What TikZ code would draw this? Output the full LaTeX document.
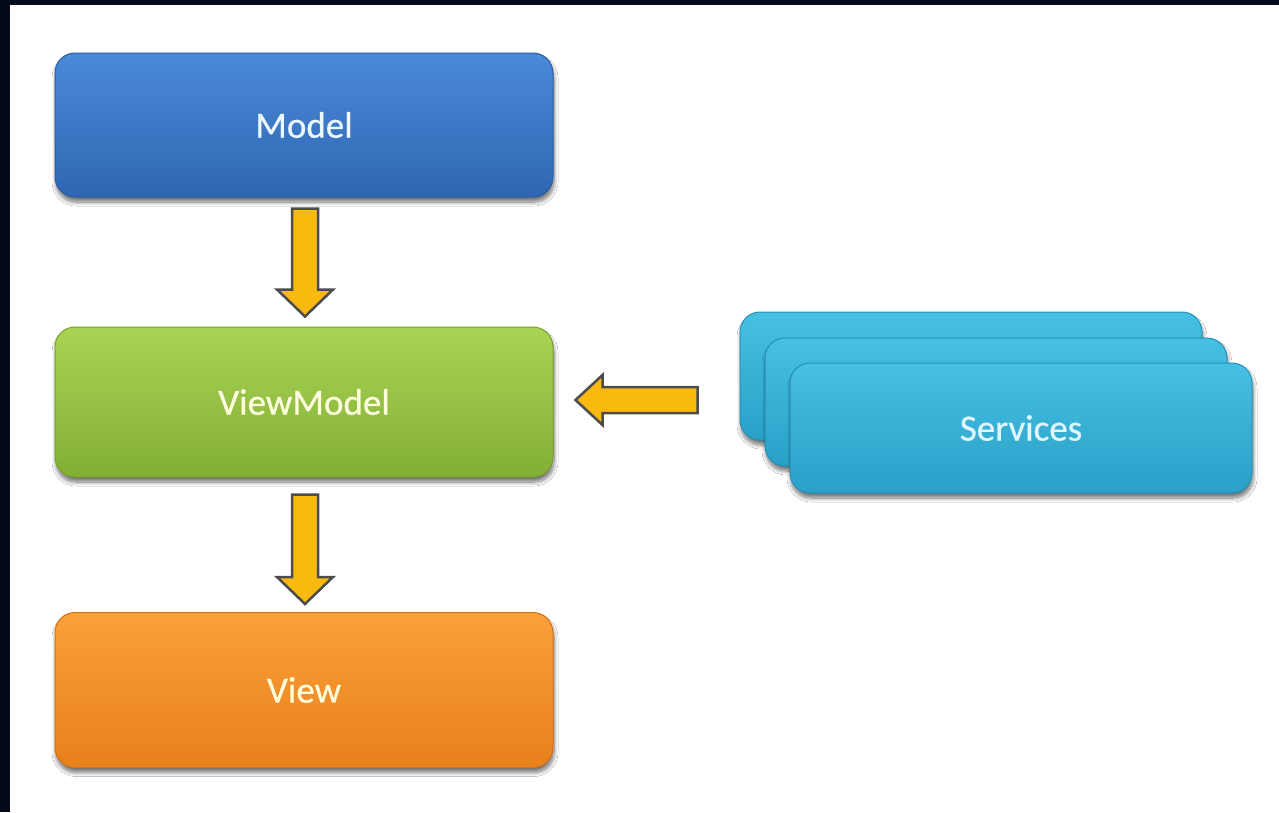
\documentclass[tikz,border=0pt]{standalone}
\usepackage{fontspec}
\setmainfont{Carlito}
\newfontfamily\boxfont[BoldFont=Carlito, BoldFeatures={FakeBold=0.6}]{Carlito}
\usetikzlibrary{calc,shadows.blur}
\definecolor{frameblk}{HTML}{040A1A}
\definecolor{mtop}{HTML}{4A8AD8}\definecolor{mbot}{HTML}{2F66B3}\definecolor{mbrd}{HTML}{2A5CA0}
\definecolor{vtop}{HTML}{A8D355}\definecolor{vbot}{HTML}{82B034}\definecolor{vbrd}{HTML}{76A02E}
\definecolor{otop}{HTML}{FBA03A}\definecolor{obot}{HTML}{E8801C}\definecolor{obrd}{HTML}{D27218}
\definecolor{stop}{HTML}{46C0E3}\definecolor{sbot}{HTML}{2AA0C8}\definecolor{sbrd}{HTML}{2590B8}
\definecolor{arrfill}{HTML}{F9B90F}\definecolor{arrline}{HTML}{4C4C4C}
\tikzset{
  box/.style={rounded corners=20pt, draw, line width=1pt, shading=axis,
    minimum width=498pt, inner sep=0pt, font=\boxfont\bfseries\fontsize{37}{40}\selectfont,
    blur shadow={shadow xshift=1pt, shadow yshift=-5pt, shadow blur steps=8, shadow blur radius=4pt, shadow opacity=55}},
  modelbox/.style={box, top color=mtop, bottom color=mbot, draw=mbrd, text=white!92!cyan},
  vmbox/.style={box, top color=vtop, bottom color=vbot, draw=vbrd, text=white!88!yellow},
  viewbox/.style={box, top color=otop, bottom color=obot, draw=obrd, text=white!85!yellow},
  svcbox/.style={box, top color=stop, bottom color=sbot, draw=sbrd, text=white!88!cyan, minimum width=462pt},
  blockarrow/.style={fill=arrfill, draw=arrline, line width=2.5pt, line join=miter}
}
\begin{document}
\begin{tikzpicture}[x=1pt,y=-1pt]
\useasboundingbox (0,0) rectangle (1279,812);
\fill[white] (0,0) rectangle (1279,812);
\fill[frameblk] (0,0) rectangle (1279,5);
\fill[frameblk] (0,0) rectangle (10,812);

\node[modelbox, minimum height=144pt] (model) at (304,125) {Model};
\node[vmbox, minimum height=150pt] (vm) at (304,402) {ViewModel};
\node[viewbox, minimum height=155pt] (view) at (304,690) {View};

\node[svcbox, minimum height=128pt] (svc3) at (971,376) {};
\node[svcbox, minimum height=128pt] (svc2) at (996,402) {};
\node[svcbox, minimum height=130pt] (svc1) at (1021,428) {Services};

% Model -> ViewModel
\coordinate (a1t) at ($(model.south)+(1,11)$);
\coordinate (a1h) at ($(vm.north)+(1,-10)$);
\draw[blockarrow] ($(a1t)+(-13,0)$) -- ($(a1h)+(-13,-27)$) -- ($(a1h)+(-28,-27)$) -- (a1h)
  -- ($(a1h)+(28,-27)$) -- ($(a1h)+(13,-27)$) -- ($(a1t)+(13,0)$) -- cycle;

% ViewModel -> View
\coordinate (a2t) at ($(vm.south)+(1,17)$);
\coordinate (a2h) at ($(view.north)+(1,-8)$);
\draw[blockarrow] ($(a2t)+(-13,0)$) -- ($(a2h)+(-13,-27)$) -- ($(a2h)+(-28,-27)$) -- (a2h)
  -- ($(a2h)+(28,-27)$) -- ($(a2h)+(13,-27)$) -- ($(a2t)+(13,0)$) -- cycle;

% Services -> ViewModel
\coordinate (a3h) at ($(vm.east)+(22,-2)$);
\coordinate (a3t) at ($(svc3.west)+(-42,24)$);
\draw[blockarrow] (a3h) -- ($(a3h)+(27,-25)$) -- ($(a3h)+(27,-13)$) -- ($(a3t)+(0,-13)$)
  -- ($(a3t)+(0,13)$) -- ($(a3h)+(27,13)$) -- ($(a3h)+(27,25)$) -- cycle;
\end{tikzpicture}
\end{document}
